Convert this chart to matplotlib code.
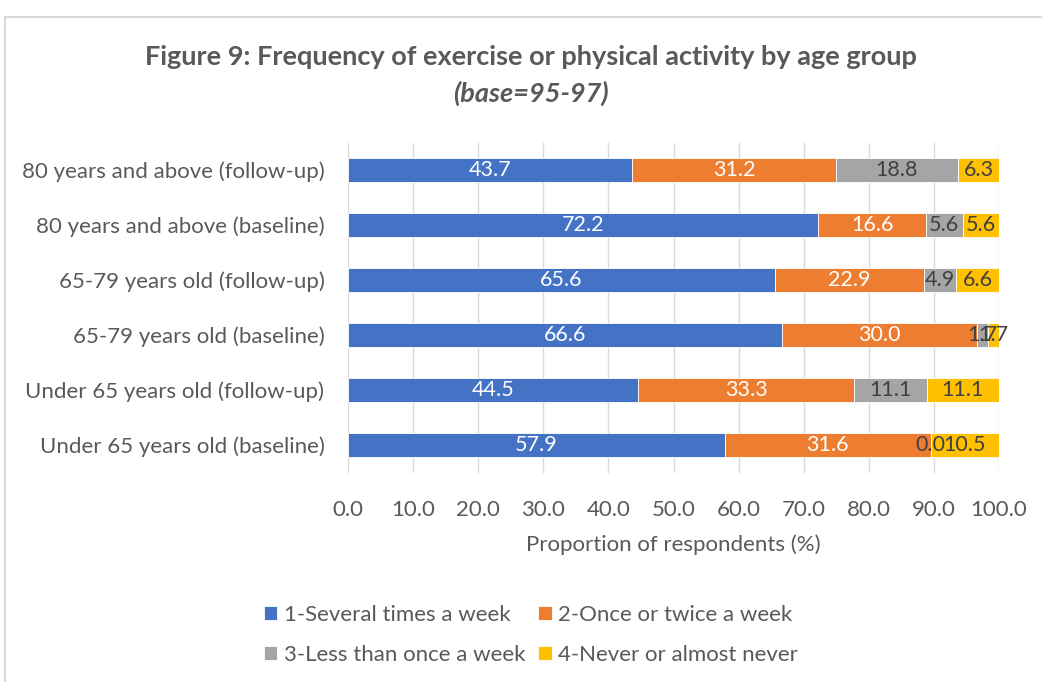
import matplotlib.pyplot as plt
from matplotlib.patches import Rectangle

# data (percent)
groups = [
    "80 years and above (follow-up)",
    "80 years and above (baseline)",
    "65-79 years old (follow-up)",
    "65-79 years old (baseline)",
    "Under 65 years old (follow-up)",
    "Under 65 years old (baseline)",
]
several = [43.7, 72.2, 65.6, 66.6, 44.5, 57.9]
once_twice = [31.2, 16.6, 22.9, 30.0, 33.3, 31.6]
less_once = [18.8, 5.6, 4.9, 1.7, 11.1, 0.0]
never = [6.3, 5.6, 6.6, 1.7, 11.1, 10.5]

series_names = ["1-Several times a week", "2-Once or twice a week",
                "3-Less than once a week", "4-Never or almost never"]
colors = ["#4472C4", "#ED7D31", "#A5A5A5", "#FFC000"]
label_colors = ["white", "white", "#404040", "#404040"]

plt.rcParams['font.family'] = ['Lato', 'DejaVu Sans']

fig = plt.figure(figsize=(10.42, 6.82), dpi=100)
ax = fig.add_axes([348 / 1042, 1 - 472.5 / 682, (999 - 348) / 1042, 330 / 682])

y = list(range(len(groups)))
left = [0.0] * len(groups)
handles = []
for vals, name, col, tcol in zip([several, once_twice, less_once, never],
                                 series_names, colors, label_colors):
    bars = ax.barh(y, vals, left=left, height=0.45, color=col,
                   edgecolor="white", linewidth=0.6, label=name, zorder=3)
    handles.append(bars)
    for yi, v, l in zip(y, vals, left):
        ax.text(l + v / 2, yi, f"{v:.1f}", ha="center", va="center",
                color=tcol, fontsize=15.5, zorder=4)
    left = [a + b for a, b in zip(left, vals)]

ax.set_ylim(len(groups) - 0.5, -0.5)
ax.set_xlim(0, 100)
ax.set_xticks(range(0, 101, 10))
ax.set_xticklabels([f"{t:.1f}" for t in range(0, 101, 10)])
ax.set_yticks(y)
ax.set_yticklabels(groups)
ax.tick_params(axis="both", length=0, colors="#595959", labelsize=16)
ax.tick_params(axis="x", pad=20)
ax.tick_params(axis="y", pad=17)
ax.grid(axis="x", color="#D9D9D9", linewidth=1, zorder=0)
for s in ax.spines.values():
    s.set_visible(False)
ax.set_xlabel("Proportion of respondents (%)", fontsize=16, color="#595959",
              labelpad=10)

fig.text(531 / 1042, 1 - 57 / 682,
         "Figure 9: Frequency of exercise or physical activity by age group",
         ha="center", va="center", fontsize=19.5, fontweight="bold",
         color="#595959")
fig.text(531 / 1042, 1 - 93 / 682, "(base=95-97)", ha="center", va="center",
         fontsize=19.5, fontweight="bold", style="italic", color="#595959")

# legend filled row by row: (1, 2) on top, (3, 4) below
order = [0, 2, 1, 3]
leg = fig.legend(handles=[handles[i] for i in order], loc="center", ncol=2,
                 bbox_to_anchor=(531 / 1042, 1 - 635 / 682), frameon=False,
                 fontsize=16, handlelength=0.6, handleheight=0.6,
                 handletextpad=0.3, columnspacing=0.6, labelspacing=0.9)
for t in leg.get_texts():
    t.set_color("#595959")

fig.add_artist(Rectangle((5 / 1042, -0.1), 1.2, 1 - 17 / 682 + 0.1,
                         transform=fig.transFigure, fill=False,
                         edgecolor="#D9D9D9", linewidth=1.5))

fig.savefig("out.png", dpi=100, facecolor="white")
